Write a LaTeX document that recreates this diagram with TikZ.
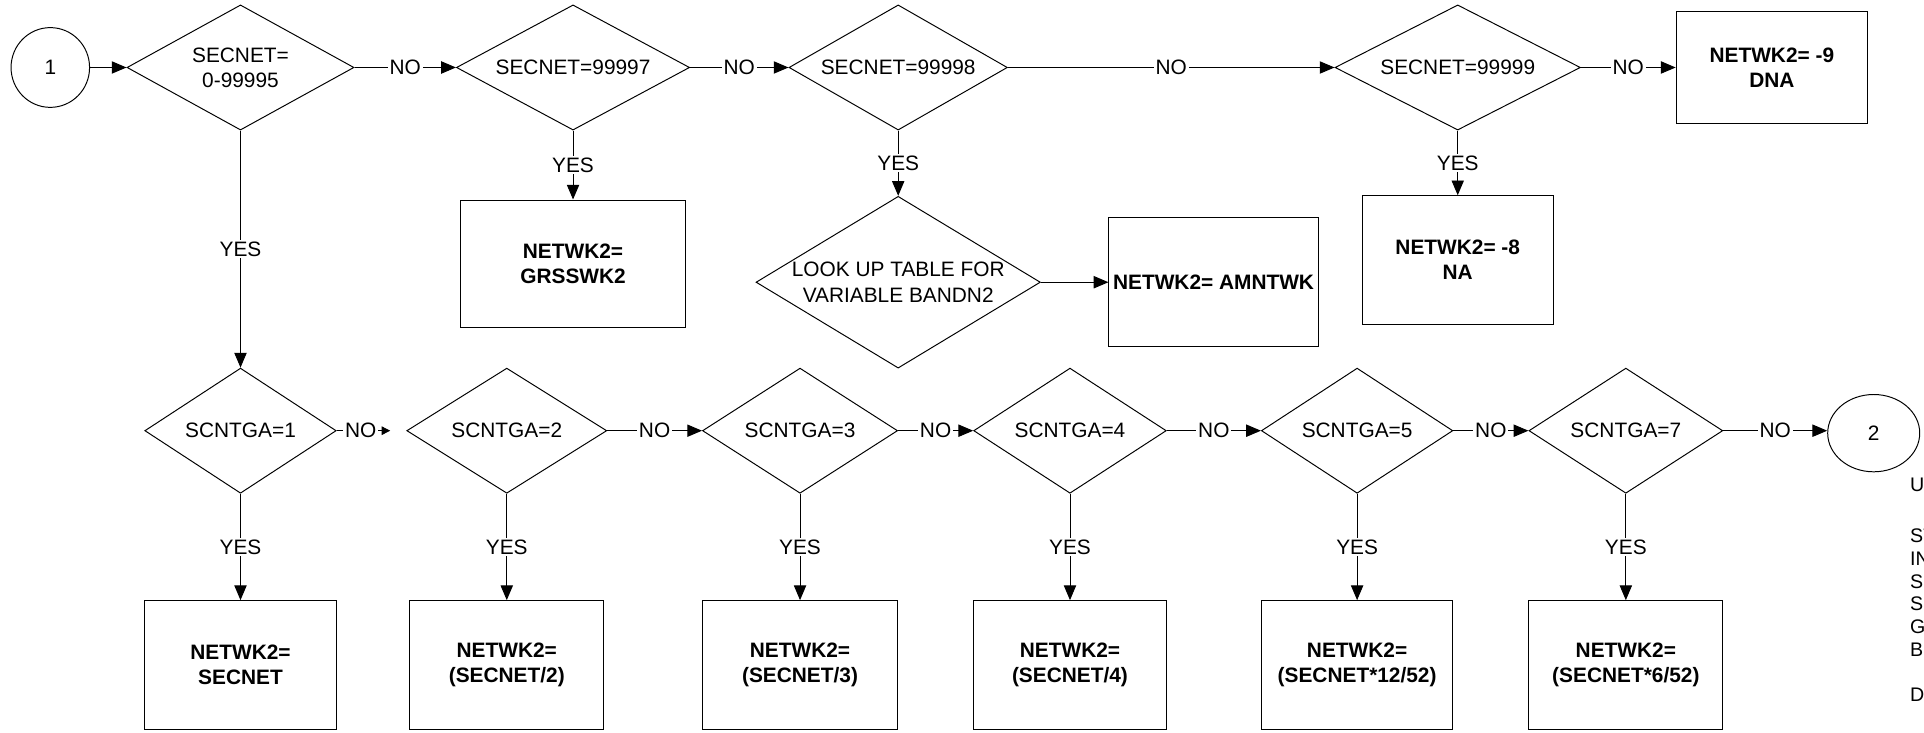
\documentclass[tikz,border=0pt]{standalone}
\usepackage{fontspec}
\setmainfont{Liberation Sans}
\usetikzlibrary{shapes.geometric, arrows.meta, positioning}
\tikzset{
  flowfont/.style={font=\fontsize{17}{20.5}\selectfont},
  decision/.style={
    diamond, draw, line width=0.8pt, inner sep=0pt, shape aspect=1.8,
    align=center, flowfont
  },
  resultbox/.style={
    rectangle, draw, line width=0.8pt, align=center,
    font=\fontsize{17}{20.5}\selectfont\bfseries
  },
  connector/.style={
    ellipse, draw, line width=0.8pt, flowfont
  },
  flowarrow/.style={
    -{Triangle[length=12pt,width=10pt]}, line width=0.8pt
  },
  flowlabel/.style={
    fill=white, inner sep=1.5pt, flowfont
  },
}

\begin{document}
\begin{tikzpicture}[x=1pt, y=-1pt]
  \useasboundingbox (0,0) rectangle (1568,597);

  % ── Top row: SECNET checks ──
  \node[connector, minimum width=64pt, minimum height=65pt] (start) at (41,55) {1};
  \node[decision, minimum width=185pt, minimum height=102pt] (secall) at (196,55)
    {SECNET=\\0-99995};
  \node[decision, minimum width=190pt, minimum height=102pt] (sec97) at (467,55)
    {SECNET=99997};
  \node[decision, minimum width=178pt, minimum height=102pt] (sec98) at (732,55)
    {SECNET=99998};
  \node[decision, minimum width=200pt, minimum height=102pt] (sec99) at (1188,55)
    {SECNET=99999};
  \node[resultbox, minimum width=156pt, minimum height=92pt] (netdna) at (1444,55)
    {NETWK2= -9\\DNA};

  \draw[flowarrow] (start) -- (secall);
  \draw[flowarrow] (secall) -- node[flowlabel] {NO} (sec97);
  \draw[flowarrow] (sec97) -- node[flowlabel] {NO} (sec98);
  \draw[flowarrow] (sec98) -- node[flowlabel] {NO} (sec99);
  \draw[flowarrow] (sec99) -- node[flowlabel] {NO} (netdna);

  % ── Second row: results of SECNET checks ──
  \node[resultbox, minimum width=183pt, minimum height=104pt] (netgrs) at (467,215)
    {NETWK2=\\GRSSWK2};
  \node[decision, minimum width=229pt, minimum height=140pt] (lookup) at (732,230)
    {LOOK UP TABLE FOR\\VARIABLE BANDN2};
  \node[resultbox, minimum width=170pt, minimum height=105pt] (netamn) at (989,230)
    {NETWK2= AMNTWK};
  \node[resultbox, minimum width=156pt, minimum height=105pt] (netna) at (1188,212)
    {NETWK2= -8\\NA};

  \draw[flowarrow] (sec97) -- node[flowlabel] {YES} (netgrs);
  \draw[flowarrow] (sec98) -- node[flowlabel] {YES} (lookup);
  \draw[flowarrow] (lookup) -- (netamn);
  \draw[flowarrow] (sec99) -- node[flowlabel] {YES} (netna);

  % ── Third row: SCNTGA checks ──
  \node[decision, minimum width=156pt, minimum height=102pt] (tga1) at (196,351) {SCNTGA=1};
  \node[decision, minimum width=163pt, minimum height=102pt] (tga2) at (413,351) {SCNTGA=2};
  \node[decision, minimum width=159pt, minimum height=102pt] (tga3) at (652,351) {SCNTGA=3};
  \node[decision, minimum width=157pt, minimum height=102pt] (tga4) at (872,351) {SCNTGA=4};
  \node[decision, minimum width=156pt, minimum height=102pt] (tga5) at (1106,351) {SCNTGA=5};
  \node[decision, minimum width=158pt, minimum height=102pt] (tga7) at (1325,351) {SCNTGA=7};
  \node[connector, minimum width=75pt, minimum height=63pt] (next) at (1527,353) {2};
  \coordinate (tga1no) at (318,351);

  \draw[flowarrow] (secall) -- node[flowlabel] {YES} (tga1);
  \draw[-{Triangle[length=7pt,width=7pt]}, line width=0.8pt]
    (tga1) -- node[flowlabel, pos=0.45] {NO} (tga1no);
  \draw[flowarrow] (tga2) -- node[flowlabel] {NO} (tga3);
  \draw[flowarrow] (tga3) -- node[flowlabel] {NO} (tga4);
  \draw[flowarrow] (tga4) -- node[flowlabel] {NO} (tga5);
  \draw[flowarrow] (tga5) -- node[flowlabel] {NO} (tga7);
  \draw[flowarrow] (tga7) -- node[flowlabel] {NO} (next.west |- tga7);

  % ── Bottom row: NETWK2 formulas ──
  \node[resultbox, minimum width=156pt, minimum height=105pt] (net1) at (196,542)
    {NETWK2=\\SECNET};
  \node[resultbox, minimum width=158pt, minimum height=105pt] (net2) at (413,542)
    {NETWK2=\\(SECNET/2)};
  \node[resultbox, minimum width=159pt, minimum height=105pt] (net3) at (652,542)
    {NETWK2=\\(SECNET/3)};
  \node[resultbox, minimum width=157pt, minimum height=105pt] (net4) at (872,542)
    {NETWK2=\\(SECNET/4)};
  \node[resultbox, minimum width=156pt, minimum height=105pt] (net5) at (1106,542)
    {NETWK2=\\(SECNET*12/52)};
  \node[resultbox, minimum width=158pt, minimum height=105pt] (net7) at (1325,542)
    {NETWK2=\\(SECNET*6/52)};

  \foreach \n in {1,2,3,4,5,7}
    \draw[flowarrow] (tga\n) -- node[flowlabel] {YES} (net\n);

  % ── Note cut off at the right edge ──
  \node[anchor=north west, align=left, inner sep=0pt,
        font=\fontsize{16}{18.5}\selectfont] (note) at (1556.5,389)
    {U\\[23.5pt]ST\\IN\\S\\S\\G\\B\\[18.5pt]D};
\end{tikzpicture}
\end{document}
